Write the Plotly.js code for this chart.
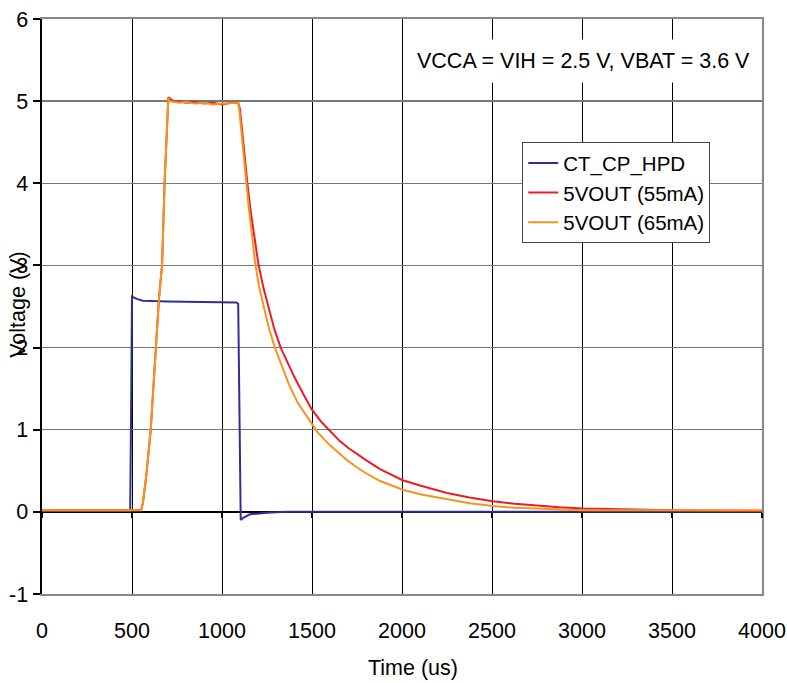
<!DOCTYPE html>
<html>
<head>
<meta charset="utf-8">
<script src="https://cdn.plot.ly/plotly-3.0.1.min.js"></script>
<style>html,body{margin:0;padding:0;background:#fff;}#chart{width:787px;height:683px;}</style>
</head>
<body>
<div id="chart"></div>
<script>
// ---- data (time in us, voltage in V) ----
const blueName = "CT_CP_HPD";
const blueT = [0, 490, 496, 500, 530, 560, 700, 900, 1080, 1090, 1096, 1100, 1104, 1120, 1155, 1250, 1360, 2000, 3000, 4000];
const blueV = [0.01, 0.01, 1.5, 2.62, 2.59, 2.57, 2.56, 2.55, 2.55, 2.53, 1.2, -0.05, -0.1, -0.07, -0.03, -0.01, 0.0, 0.0, 0.0, 0.0];

const redName = "5VOUT (55mA)";
const redT = [0, 550, 560, 580, 604, 633, 650, 667, 681, 695, 702, 710, 730, 760, 800, 850, 900, 950, 1000, 1050, 1090, 1100, 1120, 1141, 1160, 1180, 1202, 1230, 1260, 1290, 1326, 1360, 1400, 1450, 1498, 1550, 1600, 1650, 1700, 1750, 1800, 1878, 1940, 2004, 2100, 2250, 2375, 2504, 2625, 2750, 2875, 3004, 3250, 3500, 4000];
const redV = [0.02, 0.02, 0.1, 0.45, 1.0, 2.0, 2.6, 3.0, 4.0, 4.7, 5.05, 5.03, 5.0, 5.0, 4.98, 4.99, 4.97, 4.98, 4.96, 4.98, 4.98, 4.9, 4.45, 4.0, 3.65, 3.33, 3.02, 2.73, 2.48, 2.23, 2.0, 1.83, 1.65, 1.44, 1.25, 1.1, 0.98, 0.87, 0.78, 0.7, 0.63, 0.52, 0.45, 0.385, 0.32, 0.23, 0.175, 0.13, 0.1, 0.075, 0.055, 0.04, 0.03, 0.02, 0.01];

const orangeName = "5VOUT (65mA)";
const orangeT = [0, 550, 560, 580, 604, 633, 650, 667, 681, 695, 702, 710, 730, 760, 800, 850, 900, 950, 1000, 1050, 1090, 1098, 1115, 1133, 1150, 1168, 1183, 1205, 1230, 1260, 1294, 1330, 1370, 1420, 1474, 1530, 1600, 1650, 1700, 1750, 1800, 1878, 1940, 2004, 2100, 2250, 2375, 2504, 2625, 2750, 3000, 3500, 4000];
const orangeV = [0.02, 0.02, 0.1, 0.45, 1.0, 2.0, 2.6, 3.0, 4.0, 4.7, 5.04, 5.0, 4.99, 4.98, 4.99, 4.97, 4.98, 4.96, 4.97, 4.98, 4.98, 4.85, 4.45, 4.0, 3.68, 3.35, 3.05, 2.75, 2.5, 2.24, 2.0, 1.78, 1.56, 1.33, 1.15, 0.97, 0.81, 0.71, 0.62, 0.54, 0.47, 0.375, 0.32, 0.27, 0.215, 0.15, 0.105, 0.07, 0.05, 0.04, 0.02, 0.02, 0.02];

const xTicks = [0, 500, 1000, 1500, 2000, 2500, 3000, 3500, 4000];
const yTicks = [-1, 0, 1, 2, 3, 4, 5, 6];
const noteText = "VCCA = VIH = 2.5 V, VBAT = 3.6 V";
const xTitle = "Time (us)";
const yTitle = "Voltage (V)";

const FONT = "Liberation Sans, Arial, Helvetica, sans-serif";
const FS = 21.5;

const traces = [
  {x: blueT, y: blueV, name: blueName, type: "scatter", mode: "lines", line: {color: "#2e3192", width: 2}},
  {x: redT, y: redV, name: redName, type: "scatter", mode: "lines", line: {color: "#ed1c24", width: 2}},
  {x: orangeT, y: orangeV, name: orangeName, type: "scatter", mode: "lines", line: {color: "#f7941d", width: 2}},
  // invisible trace to carry the secondary axes (ticks at y = 0 and right border)
  {x: [0], y: [0], xaxis: "x2", yaxis: "y2", mode: "markers", marker: {opacity: 0}, showlegend: false, hoverinfo: "skip"}
];

const layout = {
  width: 787, height: 683,
  margin: {l: 42, r: 25, t: 19, b: 89},
  paper_bgcolor: "#fff", plot_bgcolor: "#fff",
  font: {family: FONT, size: FS, color: "#000"},
  showlegend: true,
  legend: {
    x: 0.667, y: 0.786, xanchor: "left", yanchor: "top",
    bgcolor: "#fff", bordercolor: "#444", borderwidth: 1,
    font: {family: FONT, size: 20.5, color: "#000"},
    tracegroupgap: 0, itemwidth: 30
  },
  xaxis: {
    range: [0, 4000], tickvals: xTicks, ticktext: xTicks.map(String),
    showgrid: true, gridcolor: "#000", gridwidth: 1,
    showline: true, linecolor: "#888", linewidth: 2, mirror: true,
    zeroline: false, ticks: "", ticklabelstandoff: 16,
    tickfont: {family: FONT, size: FS, color: "#000"}
  },
  yaxis: {
    range: [-1, 6], tickvals: yTicks, ticktext: yTicks.map(String),
    showgrid: true, gridcolor: "#777", gridwidth: 1.5,
    showline: true, linecolor: "#000", linewidth: 2.5,
    zeroline: true, zerolinecolor: "#000", zerolinewidth: 2.5,
    ticks: "outside", ticklen: 7, tickwidth: 2, tickcolor: "#000",
    tickfont: {family: FONT, size: FS, color: "#000"}
  },
  xaxis2: {
    overlaying: "x", anchor: "free", position: 1/7, range: [0, 4000],
    tickvals: xTicks, showticklabels: false, showgrid: false, zeroline: false,
    showline: false, ticks: "outside", ticklen: 5, tickwidth: 2, tickcolor: "#000"
  },
  yaxis2: {
    overlaying: "y", side: "right", range: [-1, 6],
    showticklabels: false, showgrid: false, zeroline: false,
    showline: true, linecolor: "#888", linewidth: 2, ticks: ""
  },
  annotations: [
    {text: noteText, xref: "paper", yref: "paper", x: 0.997, y: 0.927,
     xanchor: "right", yanchor: "middle", showarrow: false, bgcolor: "#fff",
     borderpad: 9, font: {family: FONT, size: FS, color: "#000"}},
    {text: xTitle, xref: "paper", yref: "paper", x: 0.515, y: -0.1287,
     xanchor: "center", yanchor: "middle", showarrow: false,
     font: {family: FONT, size: FS, color: "#000"}},
    {text: yTitle, xref: "paper", yref: "paper", x: -0.0333, y: 0.503,
     xanchor: "center", yanchor: "middle", textangle: -90, showarrow: false,
     font: {family: FONT, size: FS, color: "#000"}}
  ]
};

Plotly.newPlot("chart", traces, layout, {displayModeBar: false, staticPlot: true});
</script>
</body>
</html>
